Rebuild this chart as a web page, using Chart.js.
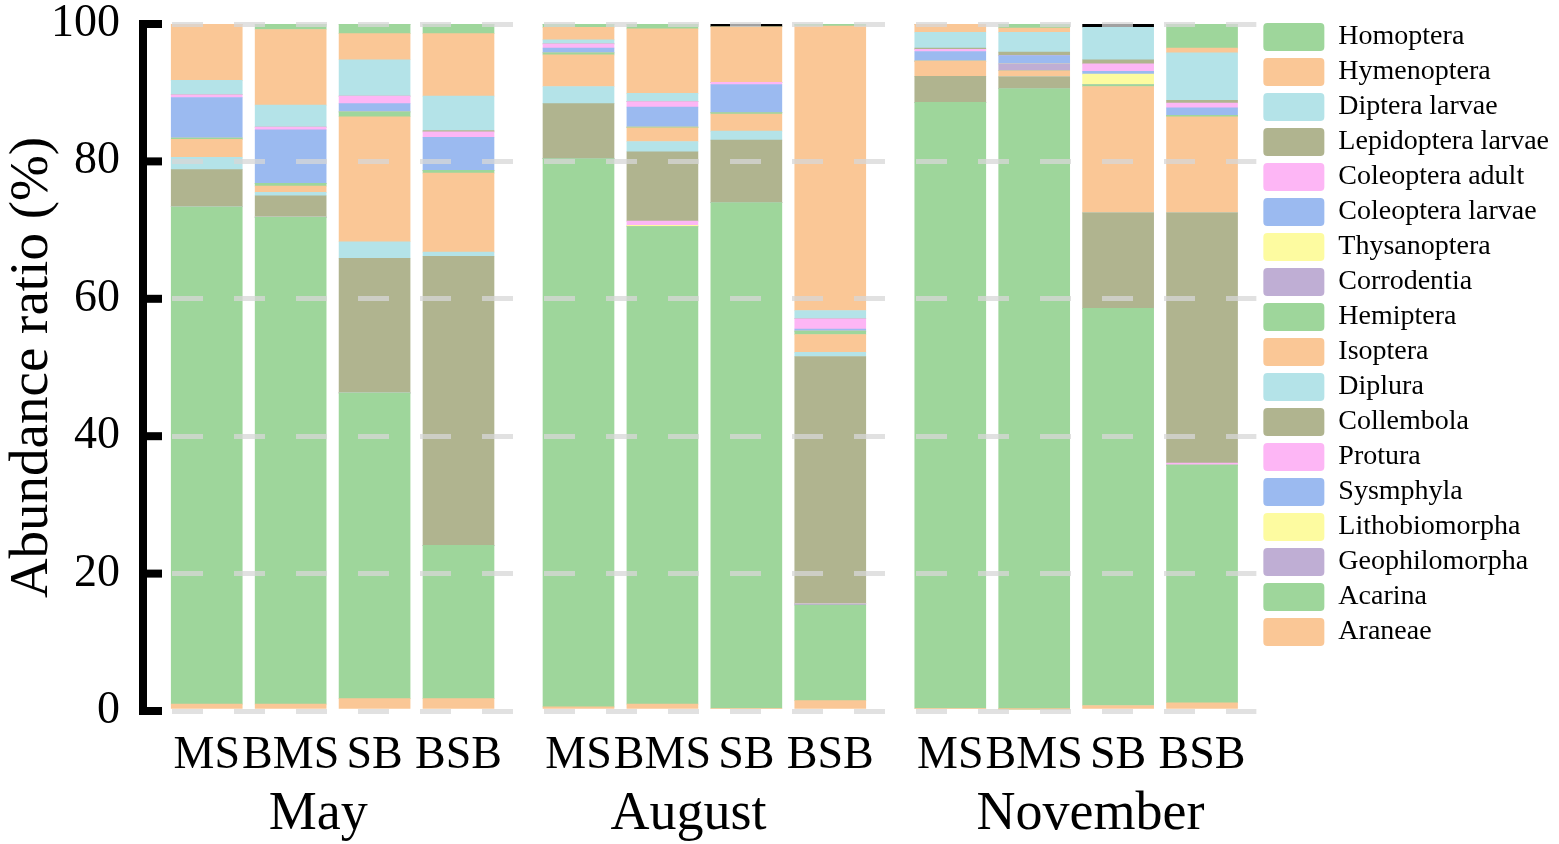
<!DOCTYPE html>
<html>
<head>
<meta charset="utf-8">
<script src="https://cdn.jsdelivr.net/npm/chart.js@4.4.1/dist/chart.umd.min.js"></script>
<style>
  html, body { margin: 0; padding: 0; background: #fff; }
  #wrap { width: 1559px; height: 844px; }
</style>
</head>
<body>
<div id="wrap"><canvas id="grafico"></canvas></div>
<script>
// sites within each month, months as groups
const sites = ['MS', 'BMS', 'SB', 'BSB'];
const months = ['May', 'August', 'November'];
const yTicks = [0, 20, 40, 60, 80, 100];

// abundance ratio (%), order: May MS,BMS,SB,BSB | August ... | November ...
const araneae        = [1.0, 1.0, 1.8, 1.8,   0.6, 1.0, 0.4, 1.5,   0.4, 0.25, 0.8, 1.2];
const acarina        = [72.4, 70.9, 44.5, 22.3, 79.8, 69.5, 73.6, 13.9, 88.2, 90.35, 57.8, 34.6];
const geophilomorpha = [0, 0, 0, 0,   0, 0, 0, 0.2,   0, 0, 0, 0];
const lithobiomorpha = [0, 0, 0, 0,   0, 0.2, 0, 0,   0, 0, 0, 0];
const sysmphyla      = [0, 0, 0, 0,   0, 0, 0, 0,     0, 0, 0, 0];
const protura        = [0, 0, 0, 0,   0, 0.6, 0, 0,   0, 0, 0, 0.3];
const collembola     = [5.4, 3.1, 19.6, 42.1, 8.0, 10.1, 9.1, 36.0, 3.8, 1.7, 13.9, 36.4];
const diplura        = [1.8, 0.5, 2.4, 0.6,  2.5, 1.5, 1.3, 0.6,  0, 0, 0, 0];
const isoptera       = [2.6, 0.9, 18.2, 11.5, 4.6, 2.0, 2.5, 2.6, 2.2, 0.9, 18.4, 14.0];
const hemiptera      = [0.2, 0.4, 0.7, 0.4,  0.3, 0.1, 0.2, 0.5,  0, 0, 0.3, 0.2];
const corrodentia    = [0, 0, 0, 0,   0, 0, 0, 0,   0, 1.0, 0, 0];
const thysanoptera   = [0, 0, 0, 0,   0, 0, 0, 0,   0, 0, 1.5, 0];
const coleopteraL    = [5.9, 7.8, 1.2, 4.8,  0.7, 2.9, 4.1, 0.3,  1.4, 1.2, 0.4, 1.1];
const coleopteraA    = [0.4, 0.4, 1.1, 0.8,  0.6, 0.8, 0.3, 1.5,  0.3, 0, 1.1, 0.7];
const lepidopteraL   = [0, 0, 0, 0.2,   0, 0, 0, 0,   0.2, 0.5, 0.6, 0.4];
const dipteraL       = [2.1, 3.2, 5.3, 5.0,  0.6, 1.2, 0, 1.2,  2.3, 2.9, 4.7, 6.9];
const hymenoptera    = [8.2, 11.0, 3.8, 9.1, 1.8, 9.4, 8.1, 41.4, 1.2, 0.6, 0, 0.7];
const homoptera      = [0, 0.8, 1.4, 1.4,  0.5, 0.7, 0, 0.3,  0, 0.6, 0, 3.5];
const unlabeled      = [0, 0, 0, 0,   0, 0, 0.4, 0,   0, 0, 0.5, 0];

const GREEN = '#9ED69B', ORANGE = '#FAC796', CYAN = '#B4E3E8', OLIVE = '#B0B48F';
const PINK = '#FDB6F5', BLUE = '#9BBAF0', YELLOW = '#FDFBA0', PURPLE = '#BFAED4';

// bottom of the stack first
const series = [
    ['Araneae', araneae, ORANGE],
    ['Acarina', acarina, GREEN],
    ['Geophilomorpha', geophilomorpha, PURPLE],
    ['Lithobiomorpha', lithobiomorpha, YELLOW],
    ['Sysmphyla', sysmphyla, BLUE],
    ['Protura', protura, PINK],
    ['Collembola', collembola, OLIVE],
    ['Diplura', diplura, CYAN],
    ['Isoptera', isoptera, ORANGE],
    ['Hemiptera', hemiptera, GREEN],
    ['Corrodentia', corrodentia, PURPLE],
    ['Thysanoptera', thysanoptera, YELLOW],
    ['Coleoptera larvae', coleopteraL, BLUE],
    ['Coleoptera adult', coleopteraA, PINK],
    ['Lepidoptera larvae', lepidopteraL, OLIVE],
    ['Diptera larvae', dipteraL, CYAN],
    ['Hymenoptera', hymenoptera, ORANGE],
    ['Homoptera', homoptera, GREEN],
    ['', unlabeled, '#000000']
];

// bar slot positions: 4 sites per month, months spaced a bit wider
const GROUP_STEP = 4.43;
const xPos = [];
const xLabels = [];
months.forEach((m, g) => sites.forEach((s, i) => { xPos.push(g * GROUP_STEP + i); xLabels.push(s); }));
const monthNudge = [-0.17, -0.19, 0.17];
const monthPos = months.map((m, g) => g * GROUP_STEP + 1.5 + monthNudge[g]);
const X_MIN = -0.533, X_MAX = 12.507;

const FONT = 'Liberation Serif';

const datasets = series.map(([label, vals, color]) => ({
    label: label,
    data: vals.map((v, i) => ({ x: xPos[i], y: v })),
    backgroundColor: color,
    borderWidth: 0,
    barThickness: 71,
    stack: 'all'
}));

// thick y axis line with ticks pointing into the plot
const axisBracket = {
    id: 'axisBracket',
    afterDraw(chart) {
        const { ctx, chartArea, scales } = chart;
        const y = scales.y;
        const xLine = chartArea.left - 19;
        const top = y.getPixelForValue(100);
        const bot = y.getPixelForValue(0);
        ctx.save();
        ctx.fillStyle = '#000';
        ctx.fillRect(xLine - 4, top - 4, 8, bot - top + 8);
        yTicks.forEach(v => {
            const p = y.getPixelForValue(v);
            ctx.fillRect(xLine, p - 4, 19, 8);
        });
        ctx.restore();
    }
};

new Chart(document.getElementById('grafico'), {
    type: 'bar',
    data: { datasets: datasets },
    options: {
        responsive: true,
        maintainAspectRatio: false,
        animation: false,
        layout: { padding: { top: 16, bottom: 0, right: 0 } },
        plugins: {
            tooltip: { enabled: false },
            legend: {
                position: 'right',
                align: 'start',
                reverse: true,
                labels: {
                    font: { family: FONT, size: 28 },
                    color: '#000',
                    boxWidth: 61,
                    boxHeight: 28,
                    padding: 7,
                    useBorderRadius: true,
                    borderRadius: 4,
                    filter: item => item.text !== ''
                }
            }
        },
        scales: {
            x: {
                type: 'linear',
                stacked: true,
                min: X_MIN,
                max: X_MAX,
                offset: false,
                grid: { display: false },
                border: { display: false },
                afterBuildTicks: s => { s.ticks = xPos.map(v => ({ value: v })); },
                afterFit: s => { s.height = 63; },
                ticks: {
                    callback: (v, i) => xLabels[i],
                    font: { family: FONT, size: 46 },
                    color: '#000',
                    padding: 9,
                    autoSkip: false,
                    maxRotation: 0
                }
            },
            x2: {
                type: 'linear',
                position: 'bottom',
                weight: 1,
                min: X_MIN,
                max: X_MAX,
                offset: false,
                grid: { display: false },
                border: { display: false },
                afterBuildTicks: s => { s.ticks = monthPos.map(v => ({ value: v })); },
                afterFit: s => { s.height = 70; },
                ticks: {
                    callback: (v, i) => months[i],
                    font: { family: FONT, size: 54 },
                    color: '#000',
                    padding: 0,
                    autoSkip: false,
                    maxRotation: 0
                }
            },
            y: {
                stacked: true,
                min: 0,
                max: 100,
                afterBuildTicks: s => { s.ticks = yTicks.map(v => ({ value: v })); },
                afterFit: s => { s.width = 162; s.paddingTop = 24; s.paddingBottom = 0; },
                ticks: {
                    font: { family: FONT, size: 46 },
                    color: '#000',
                    padding: 42
                },
                grid: {
                    color: 'rgba(215,215,215,0.75)',
                    lineWidth: 5,
                    z: 1,
                    drawTicks: false
                },
                border: { display: false, dash: [31, 31], dashOffset: 52 },
                title: {
                    display: true,
                    text: 'Abundance ratio (%)',
                    font: { family: FONT, size: 55 },
                    color: '#000',
                    padding: 0
                }
            }
        }
    },
    plugins: [axisBracket]
});
</script>
</body>
</html>
